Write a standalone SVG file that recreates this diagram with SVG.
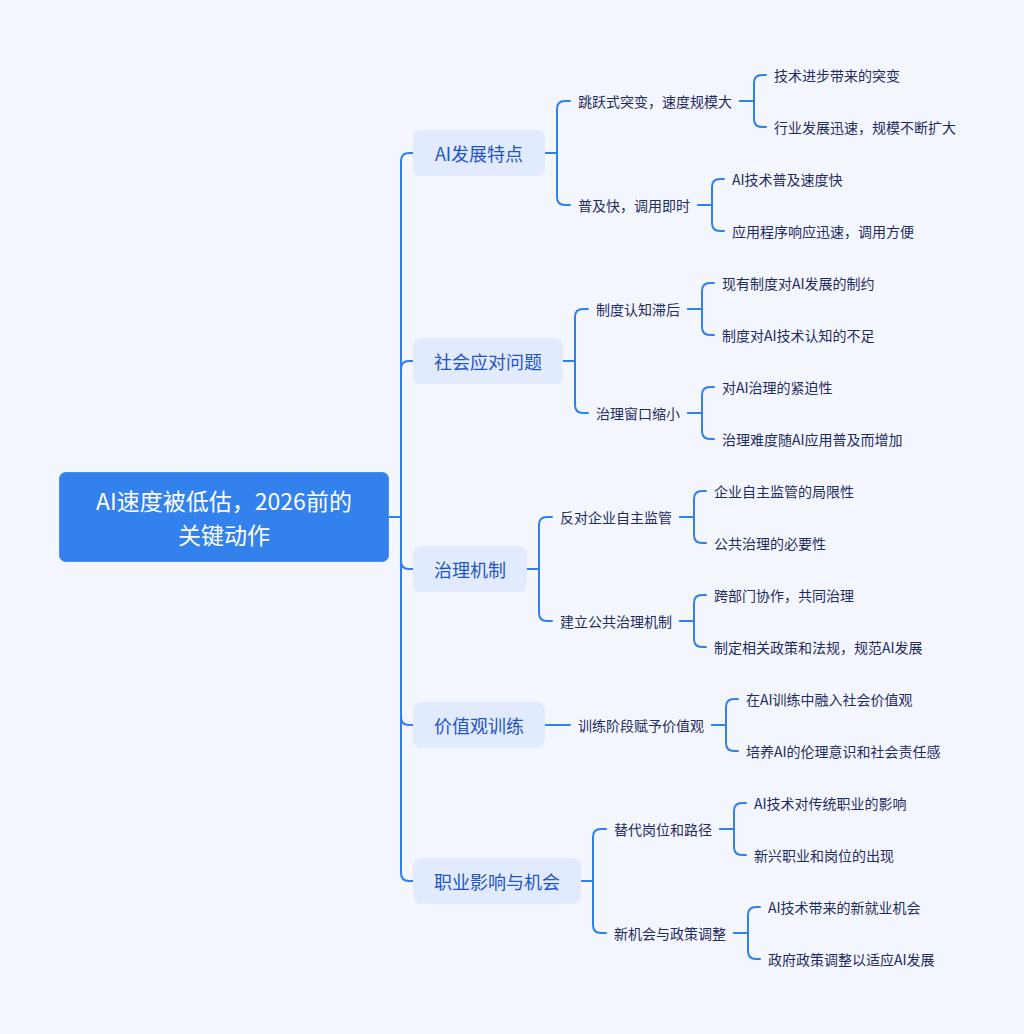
<svg xmlns="http://www.w3.org/2000/svg" width="1024" height="1034" viewBox="0 0 1024 1034">
<style>
.bg{fill:#F4F6FD}
.root{fill:#3381EC;stroke:#4A8FEF;stroke-width:1}
.rt{fill:#FFFFFF;font-family:"Noto Sans CJK SC","Noto Sans",sans-serif;font-size:23px;text-anchor:middle;dominant-baseline:central}
.n1{fill:#E2EAFD}
.t1{fill:#1F56C6;font-family:"Noto Sans CJK SC","Noto Sans",sans-serif;font-size:18px;text-anchor:middle;dominant-baseline:central}
.t2{fill:#1F2C60;font-family:"Noto Sans CJK SC","Noto Sans",sans-serif;font-size:14px;dominant-baseline:central}
.c{fill:none;stroke:#2F80EB;stroke-width:2;stroke-linecap:round;stroke-linejoin:round}
</style>
<rect class="bg" x="0" y="0" width="1024" height="1034"/>
<g id="connectors">
<path class="c" d="M388,517 H401 V161 Q401,153 409,153 H413"/>
<path class="c" d="M388,517 H401 V369 Q401,361 409,361 H413"/>
<path class="c" d="M388,517 H401 V561 Q401,569 409,569 H413"/>
<path class="c" d="M388,517 H401 V717 Q401,725 409,725 H413"/>
<path class="c" d="M388,517 H401 V873 Q401,881 409,881 H413"/>
<path class="c" d="M545,153 H557 V109 Q557,101 565,101 H570"/>
<path class="c" d="M545,153 H557 V197 Q557,205 565,205 H570"/>
<path class="c" d="M740,101 H754 V83 Q754,75 762,75 H766"/>
<path class="c" d="M740,101 H754 V119 Q754,127 762,127 H766"/>
<path class="c" d="M698,205 H712 V187 Q712,179 720,179 H724"/>
<path class="c" d="M698,205 H712 V223 Q712,231 720,231 H724"/>
<path class="c" d="M563,361 H575 V317 Q575,309 583,309 H588"/>
<path class="c" d="M563,361 H575 V405 Q575,413 583,413 H588"/>
<path class="c" d="M688,309 H702 V291 Q702,283 710,283 H714"/>
<path class="c" d="M688,309 H702 V327 Q702,335 710,335 H714"/>
<path class="c" d="M688,413 H702 V395 Q702,387 710,387 H714"/>
<path class="c" d="M688,413 H702 V431 Q702,439 710,439 H714"/>
<path class="c" d="M527,569 H539 V525 Q539,517 547,517 H552"/>
<path class="c" d="M527,569 H539 V613 Q539,621 547,621 H552"/>
<path class="c" d="M680,517 H694 V499 Q694,491 702,491 H706"/>
<path class="c" d="M680,517 H694 V535 Q694,543 702,543 H706"/>
<path class="c" d="M680,621 H694 V603 Q694,595 702,595 H706"/>
<path class="c" d="M680,621 H694 V639 Q694,647 702,647 H706"/>
<path class="c" d="M545,725 H570"/>
<path class="c" d="M712,725 H726 V707 Q726,699 734,699 H738"/>
<path class="c" d="M712,725 H726 V743 Q726,751 734,751 H738"/>
<path class="c" d="M581,881 H593 V837 Q593,829 601,829 H606"/>
<path class="c" d="M581,881 H593 V925 Q593,933 601,933 H606"/>
<path class="c" d="M720,829 H734 V811 Q734,803 742,803 H746"/>
<path class="c" d="M720,829 H734 V847 Q734,855 742,855 H746"/>
<path class="c" d="M734,933 H748 V915 Q748,907 756,907 H760"/>
<path class="c" d="M734,933 H748 V951 Q748,959 756,959 H760"/>
</g>
<g id="root">
<rect class="root" x="59.5" y="472.5" width="329" height="89" rx="6"/>
<text class="rt" x="224" y="499.5">AI速度被低估，2026前的</text>
<text class="rt" x="224" y="533.5">关键动作</text>
</g>
<g id="n1">
<rect class="n1" x="413" y="130" width="132" height="46" rx="8"/>
<text class="t1" x="479" y="152.5">AI发展特点</text>
</g>
<g id="n1a"><text class="t2" x="578" y="100.5">跳跃式突变，速度规模大</text></g>
<g id="n1a1"><text class="t2" x="774" y="74.5">技术进步带来的突变</text></g>
<g id="n1a2"><text class="t2" x="774" y="126.5">行业发展迅速，规模不断扩大</text></g>
<g id="n1b"><text class="t2" x="578" y="204.5">普及快，调用即时</text></g>
<g id="n1b1"><text class="t2" x="732" y="178.5">AI技术普及速度快</text></g>
<g id="n1b2"><text class="t2" x="732" y="230.5">应用程序响应迅速，调用方便</text></g>
<g id="n2">
<rect class="n1" x="413" y="338" width="150" height="46" rx="8"/>
<text class="t1" x="488" y="360.5">社会应对问题</text>
</g>
<g id="n2a"><text class="t2" x="596" y="308.5">制度认知滞后</text></g>
<g id="n2a1"><text class="t2" x="722" y="282.5">现有制度对AI发展的制约</text></g>
<g id="n2a2"><text class="t2" x="722" y="334.5">制度对AI技术认知的不足</text></g>
<g id="n2b"><text class="t2" x="596" y="412.5">治理窗口缩小</text></g>
<g id="n2b1"><text class="t2" x="722" y="386.5">对AI治理的紧迫性</text></g>
<g id="n2b2"><text class="t2" x="722" y="438.5">治理难度随AI应用普及而增加</text></g>
<g id="n3">
<rect class="n1" x="413" y="546" width="114" height="46" rx="8"/>
<text class="t1" x="470" y="568.5">治理机制</text>
</g>
<g id="n3a"><text class="t2" x="560" y="516.5">反对企业自主监管</text></g>
<g id="n3a1"><text class="t2" x="714" y="490.5">企业自主监管的局限性</text></g>
<g id="n3a2"><text class="t2" x="714" y="542.5">公共治理的必要性</text></g>
<g id="n3b"><text class="t2" x="560" y="620.5">建立公共治理机制</text></g>
<g id="n3b1"><text class="t2" x="714" y="594.5">跨部门协作，共同治理</text></g>
<g id="n3b2"><text class="t2" x="714" y="646.5">制定相关政策和法规，规范AI发展</text></g>
<g id="n4">
<rect class="n1" x="413" y="702" width="132" height="46" rx="8"/>
<text class="t1" x="479" y="724.5">价值观训练</text>
</g>
<g id="n4a"><text class="t2" x="578" y="724.5">训练阶段赋予价值观</text></g>
<g id="n4a1"><text class="t2" x="746" y="698.5">在AI训练中融入社会价值观</text></g>
<g id="n4a2"><text class="t2" x="746" y="750.5">培养AI的伦理意识和社会责任感</text></g>
<g id="n5">
<rect class="n1" x="413" y="858" width="168" height="46" rx="8"/>
<text class="t1" x="497" y="880.5">职业影响与机会</text>
</g>
<g id="n5a"><text class="t2" x="614" y="828.5">替代岗位和路径</text></g>
<g id="n5a1"><text class="t2" x="754" y="802.5">AI技术对传统职业的影响</text></g>
<g id="n5a2"><text class="t2" x="754" y="854.5">新兴职业和岗位的出现</text></g>
<g id="n5b"><text class="t2" x="614" y="932.5">新机会与政策调整</text></g>
<g id="n5b1"><text class="t2" x="768" y="906.5">AI技术带来的新就业机会</text></g>
<g id="n5b2"><text class="t2" x="768" y="958.5">政府政策调整以适应AI发展</text></g>
</svg>
